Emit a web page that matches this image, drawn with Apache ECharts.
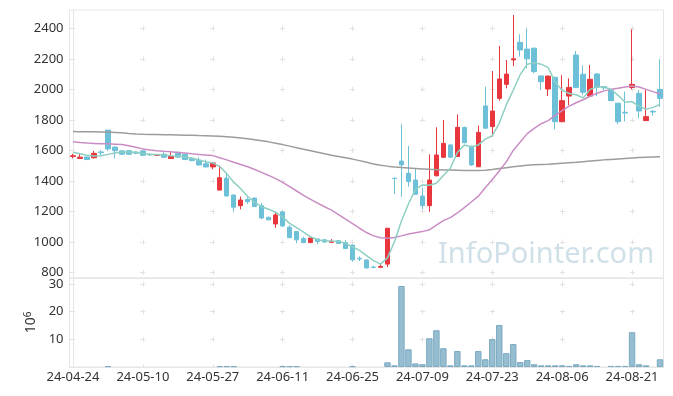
<!DOCTYPE html>
<html>
<head>
<meta charset="utf-8">
<script src="https://cdn.jsdelivr.net/npm/echarts@6/dist/echarts.min.js"></script>
<style>
html,body{margin:0;padding:0;background:#fff;}
#chart{width:673px;height:396px;}
</style>
</head>
<body>
<div id="chart"></div>
<script>
const dates = ['24-04-24','24-04-25','24-04-26','24-04-29','24-04-30','24-05-02','24-05-03','24-05-07','24-05-08','24-05-09',
'24-05-10','24-05-13','24-05-14','24-05-16','24-05-17','24-05-20','24-05-21','24-05-22','24-05-23','24-05-24',
'24-05-27','24-05-28','24-05-29','24-05-30','24-05-31','24-06-03','24-06-04','24-06-05','24-06-07','24-06-10',
'24-06-11','24-06-12','24-06-13','24-06-14','24-06-17','24-06-18','24-06-19','24-06-20','24-06-21','24-06-24',
'24-06-25','24-06-26','24-06-27','24-06-28','24-07-01','24-07-02','24-07-03','24-07-04','24-07-05','24-07-08',
'24-07-09','24-07-10','24-07-11','24-07-12','24-07-15','24-07-16','24-07-17','24-07-18','24-07-19','24-07-22',
'24-07-23','24-07-24','24-07-25','24-07-26','24-07-29','24-07-30','24-07-31','24-08-01','24-08-02','24-08-05',
'24-08-06','24-08-07','24-08-08','24-08-09','24-08-12','24-08-13','24-08-14','24-08-16','24-08-19','24-08-20',
'24-08-21','24-08-22','24-08-23','24-08-26','24-08-27'];

const opens = [1560,1547,1557,1552,1590,1733,1622,1597,1598,1588,
1596,1575,1568,1575,1547,1588,1575,1548,1533,1512,
1492,1340,1418,1308,1238,1278,1288,1238,1162,1118,
1197,1097,1068,1022,996,1020,1014,998,1008,996,
980,893,882,836,834,855,1418,1530,1450,1406,
1301,1238,1434,1555,1636,1560,1750,1627,1493,1891,
1756,1941,2033,2193,2308,2264,2270,2088,2002,2079,
1788,1956,2225,2099,1956,2101,2018,1996,1909,1850,
2012,1974,1795,1856,2000];
const closes = [1565,1556,1540,1581,1585,1610,1598,1575,1575,1582,
1568,1571,1572,1555,1560,1556,1540,1533,1505,1492,
1518,1421,1302,1228,1275,1264,1232,1157,1145,1177,
1105,1028,1014,996,1026,1003,1000,1004,990,957,
883,889,830,833,840,1090,1416,1505,1396,1313,
1238,1406,1570,1646,1556,1751,1651,1505,1718,1746,
1858,2068,2100,2200,2258,2200,2116,2050,2087,1788,
1926,2013,2013,1981,2066,2013,2010,1926,1788,1845,
2033,1858,1821,1852,1941];
const lows = [1548,1545,1538,1546,1568,1598,1548,1572,1570,1575,
1562,1566,1565,1552,1545,1550,1538,1530,1500,1488,
1476,1338,1296,1198,1214,1250,1230,1150,1143,1093,
1100,1025,992,992,994,986,995,996,988,955,
871,875,826,828,833,836,1314,1296,1362,1310,
1214,1198,1430,1552,1550,1556,1645,1498,1490,1740,
1690,1926,2007,2153,2214,2138,2105,1996,1956,1738,
1785,1897,2010,1963,1955,1956,1995,1924,1772,1790,
2000,1810,1793,1828,1886];
const highs = [1578,1578,1558,1596,1602,1735,1625,1600,1600,1592,
1600,1580,1575,1588,1588,1590,1578,1555,1555,1540,
1520,1500,1450,1310,1298,1292,1290,1255,1165,1198,
1200,1110,1072,1035,1028,1022,1018,1019,1012,1013,
982,905,885,845,858,1092,1418,1771,1629,1483,
1357,1574,1751,1799,1640,1836,1756,1632,1762,2017,
2120,2284,2192,2487,2361,2400,2272,2090,2090,2082,
2092,2072,2251,2157,2160,2103,2022,2000,1912,1985,
2393,1996,1996,1866,2197];

const ma5 = [1588,1578,1568,1563,1565,1574,1583,1590,1589,1588,
1580,1574,1574,1570,1565,1563,1557,1549,1539,1525,
1518,1494,1448,1392,1349,1298,1260,1231,1215,1195,
1163,1122,1094,1064,1034,1013,1008,1006,1005,991,
967,945,910,878,855,896,1002,1137,1249,1344,
1374,1372,1385,1435,1483,1586,1635,1622,1636,1674,
1696,1779,1898,1994,2097,2165,2175,2165,2142,2048,
1993,1973,1965,1944,2000,2017,2017,1999,1961,1916,
1920,1890,1869,1882,1901];
const ma20 = [1657,1652,1648,1646,1644,1643,1641,1638,1630,1620,
1610,1603,1598,1594,1591,1587,1583,1578,1574,1570,
1566,1552,1538,1522,1508,1493,1475,1456,1436,1415,
1390,1362,1334,1306,1279,1255,1231,1209,1180,1150,
1120,1090,1062,1040,1028,1025,1030,1040,1052,1060,
1068,1080,1110,1140,1160,1190,1225,1262,1300,1355,
1410,1465,1525,1600,1655,1710,1745,1775,1795,1830,
1860,1890,1912,1932,1955,1975,1990,2000,2008,2015,
2022,2015,2000,1985,1970];
const ma60 = [1724,1723,1723,1722,1721,1720,1718,1715,1711,1708,
1706,1705,1704,1703,1702,1701,1700,1699,1697,1696,
1694,1692,1689,1686,1681,1676,1670,1663,1656,1647,
1638,1628,1617,1607,1598,1588,1578,1568,1560,1552,
1543,1533,1522,1511,1503,1497,1492,1488,1485,1482,
1479,1476,1474,1472,1471,1470,1469,1468,1468,1470,
1475,1481,1487,1493,1498,1503,1506,1508,1510,1513,
1516,1519,1522,1526,1530,1534,1538,1541,1544,1547,
1550,1553,1555,1557,1559];

const volumes = [0,0,0,0,0,0.3,0,0,0,0,
0,0,0,0,0,0,0,0,0,0,
0,0.3,0.3,0.3,0,0,0,0,0,0,
0.3,0.3,0.3,0,0,0,0,0,0,0,
0.3,0,0,0,0,1.7,0.6,29.3,6.4,1.3,
1.0,10.4,13.3,6.8,0.6,5.8,0.6,0.6,5.8,2.8,
10.1,15.2,5.0,8.3,1.8,2.5,1.0,0.6,0.6,0.6,
0.6,0.4,1.0,0.6,0.6,0.4,0,0.4,0.4,0.4,
12.6,1.0,0.6,0,2.8];

const priceTicks = [800,1000,1200,1400,1600,1800,2000,2200,2400];
const volumeTicks = [10,20,30];
const gridTickIdx = [0,10,20,30,40,50,60,70,80];

const candleData = opens.map((o,i)=>[o, closes[i], lows[i], highs[i]]);
const volumeData = volumes.map(v => ({value:v, itemStyle:{borderWidth: v > 0 ? 1 : 0}}));

const FONT = 'Noto Sans';
const crossColor = '#e2e2e2';
const borderColor = '#e6e6e6';
const plain = v => String(v);

const chart = echarts.init(document.getElementById('chart'), null, {renderer:'canvas'});
chart.setOption({
  animation:false,
  backgroundColor:'#fff',
  textStyle:{fontFamily:FONT},
  grid:[
    {left:69.5, width:594, top:10, height:268, show:true, borderColor:borderColor, borderWidth:1},
    {left:69.5, width:594, top:278, height:89, show:true, borderColor:borderColor, borderWidth:1}
  ],
  graphic:[{
    type:'text', left:438, top:240, silent:true,
    style:{text:'InfoPointer.com', fontFamily:FONT, fontSize:29, fill:'rgba(170,198,214,0.55)'}
  }],
  xAxis:[
    {type:'category', gridIndex:0, data:dates, boundaryGap:true,
     axisLine:{show:true, lineStyle:{color:borderColor}}, axisTick:{show:false}, axisLabel:{show:false}, splitLine:{show:false}},
    {type:'category', gridIndex:1, data:dates, boundaryGap:true,
     axisLine:{show:true, lineStyle:{color:borderColor}}, axisTick:{show:false},
     axisLabel:{show:true, interval:9, color:'#333', fontSize:13, fontFamily:FONT, margin:4},
     splitLine:{show:false}},
    {type:'value', gridIndex:0, min:-0.5, max:84.5, position:'bottom',
     axisLine:{show:false}, axisLabel:{show:false}, axisTick:{show:false, customValues:gridTickIdx},
     splitLine:{show:true, lineStyle:{color:crossColor, width:1, type:[5,25.52], dashOffset:14.71}}},
    {type:'value', gridIndex:1, min:-0.5, max:84.5, position:'bottom',
     axisLine:{show:false}, axisLabel:{show:false}, axisTick:{show:false, customValues:gridTickIdx},
     splitLine:{show:true, lineStyle:{color:crossColor, width:1, type:[5,22.64], dashOffset:24.04}}}
  ],
  yAxis:[
    {type:'value', gridIndex:0, min:764, max:2520, scale:true,
     axisLine:{show:true, lineStyle:{color:borderColor}}, axisTick:{show:false, customValues:priceTicks},
     axisLabel:{color:'#333', fontSize:13, fontFamily:FONT, margin:6, customValues:priceTicks, formatter:plain},
     splitLine:{show:true, lineStyle:{color:crossColor, width:1, type:[5,65], dashOffset:-0.5}}},
    {type:'value', gridIndex:1, min:0, max:32.2,
     name:'10{sup|6}', nameLocation:'middle', nameRotate:90, nameGap:30,
     nameTextStyle:{color:'#333', fontSize:14, fontFamily:FONT,
       rich:{sup:{fontSize:10, fontFamily:FONT, color:'#333', verticalAlign:'top', padding:[0,0,6,0]}}},
     axisLine:{show:true, lineStyle:{color:borderColor}}, axisTick:{show:false, customValues:volumeTicks},
     axisLabel:{color:'#333', fontSize:13, fontFamily:FONT, margin:6, customValues:volumeTicks, formatter:plain},
     splitLine:{show:true, lineStyle:{color:crossColor, width:1, type:[5,65], dashOffset:-0.5}}}
  ],
  series:[
    {type:'candlestick', name:'price', xAxisIndex:0, yAxisIndex:0, data:candleData, barWidth:5,
     itemStyle:{color:'#e8363c', color0:'#6cc0d8', borderColor:'#e8363c', borderColor0:'#6cc0d8', borderWidth:1}},
    {type:'line', name:'MA60', xAxisIndex:0, yAxisIndex:0, data:ma60, symbol:'none',
     lineStyle:{color:'#9c9c9c', width:1.5}},
    {type:'line', name:'MA20', xAxisIndex:0, yAxisIndex:0, data:ma20, symbol:'none',
     lineStyle:{color:'#c98dc4', width:1.5}},
    {type:'line', name:'MA5', xAxisIndex:0, yAxisIndex:0, data:ma5, symbol:'none',
     lineStyle:{color:'#8dcfc3', width:1.5}},
    {type:'bar', name:'volume', xAxisIndex:1, yAxisIndex:1, data:volumeData, barCategoryGap:'8%',
     itemStyle:{color:'rgba(125,172,196,0.8)', borderColor:'#7aaac2', borderWidth:1}}
  ]
});
</script>
</body>
</html>
